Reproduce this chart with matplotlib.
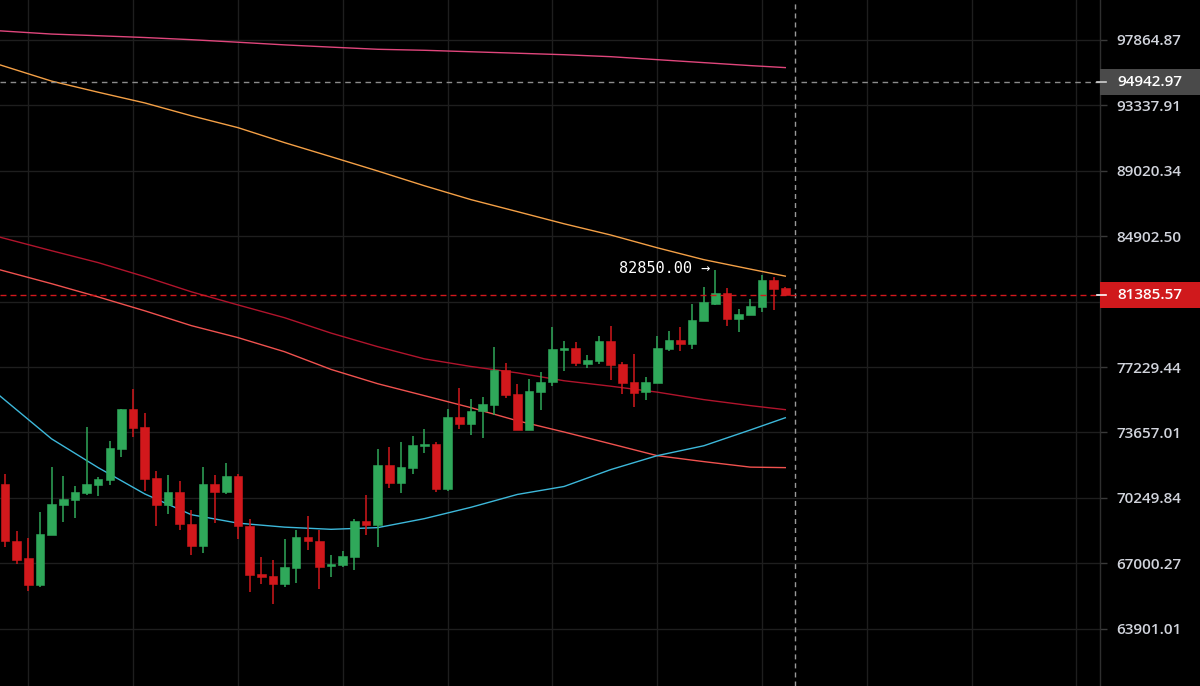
import numpy as np
import matplotlib
matplotlib.use("Agg")
import matplotlib.pyplot as plt
from matplotlib.ticker import FixedLocator, FixedFormatter, NullLocator
from matplotlib.transforms import IdentityTransform
from matplotlib.patches import Rectangle
from matplotlib.lines import Line2D

# ---------------- data ----------------
opens = [70953, 68100, 67274, 65967, 68387, 69892, 70140, 70484, 70901, 71177,
         72792, 74897, 73952, 71281, 69892, 70536, 68948, 67820, 70932, 70567,
         71349, 68814, 66455, 66379, 65981, 66787, 68302, 68103, 66853, 66915,
         67293, 69082, 68864, 71959, 71021, 71787, 72933, 73053, 70693, 74460,
         74132, 74800, 75137, 77065, 75738, 73772, 75847, 76372, 78186, 78301,
         77419, 77574, 78679, 77402, 76394, 75826, 76339, 78261, 78759, 78547,
         79824, 80855, 81491, 79961, 80191, 80649, 82272, 81791]
highs = [71474, 68566, 68218, 69544, 71818, 71370, 70828, 73936, 71333, 73225,
         74935, 76028, 74717, 71646, 71401, 71125, 69609, 71839, 71438, 72063,
         71474, 69197, 67308, 67144, 68203, 68650, 69346, 68650, 67408, 67592,
         69182, 70380, 72792, 72896, 73172, 73454, 73826, 73172, 74935, 76066,
         75465, 75574, 78375, 77459, 76284, 76574, 76956, 79521, 78702, 78645,
         77917, 79005, 79538, 77516, 77935, 76700, 78965, 79251, 79503, 80820,
         81851, 82850, 81749, 80534, 81113, 82530, 82434, 81820]
lows = [67790, 66948, 65650, 65858, 68387, 69013, 69246, 70411, 70343, 70901,
        72339, 73433, 70604, 68849, 69445, 68615, 67393, 67492, 68983, 70448,
        68203, 65602, 65981, 65052, 65858, 66048, 67621, 65763, 66332, 66820,
        66664, 68367, 67790, 70745, 70484, 71474, 72547, 70552, 70620, 73826,
        73537, 73350, 74569, 75498, 73772, 73772, 74881, 76192, 77011, 77305,
        77175, 77385, 76519, 75738, 75006, 75389, 76339, 78106, 78129, 78261,
        79824, 80780, 79561, 79234, 80191, 80339, 80494, 81385.57]
closes = [68069, 67144, 65967, 68451, 69942, 70205, 70536, 70953, 71229, 72844,
          74897, 73914, 71229, 69892, 70536, 68913, 67820, 70932, 70567, 71349,
          68814, 66408, 66346, 65981, 66820, 68302, 68069, 66834, 66948, 67343,
          69097, 68864, 71959, 71021, 71839, 72985, 73053, 70693, 74460, 74132,
          74826, 75170, 77065, 75700, 73772, 75902, 76372, 78221, 78278, 77442,
          77631, 78679, 77362, 76355, 75793, 76372, 78301, 78759, 78547, 79881,
          80935, 81491, 79961, 80248, 80706, 82272, 81731, 81385.57]

# moving averages sampled at candle indices
ma_idx = [-0.5, 4, 8, 12, 16, 20, 24, 28, 32, 36, 40, 44, 48, 52, 56, 60, 64, 67]
ma_pink = [98518, 98286, 98167, 98040, 97886, 97706, 97519, 97360, 97208, 97138,
           97034, 96931, 96827, 96689, 96481, 96273, 96066, 95927]
ma_orange = [96135, 94993, 94232, 93505, 92638, 91846, 90856, 89932, 89008, 88063,
             87182, 86426, 85670, 84978, 84194, 83473, 82902, 82482]
ma_darkred = [84854, 84014, 83293, 82452, 81551, 80780, 80036, 79148, 78375, 77688,
              77259, 76902, 76465, 76164, 75837, 75427, 75099, 74881]
ma_salmon = [82872, 82032, 81251, 80437, 79578, 78891, 78089, 77093, 76301, 75645,
             74990, 74280, 73679, 73053, 72427, 72115, 71828, 71802]
ma_cyan = [75662, 73313, 71802, 70448, 69395, 68973, 68774, 68665, 68749, 69197,
           69768, 70422, 70828, 71698, 72427, 72948, 73788, 74443]

ytick_values = [97864.87, 93337.91, 89020.34, 84902.50, 80974.52, 77229.44,
                73657.01, 70249.84, 67000.27, 63901.01]
ytick_labels = ["97864.87", "93337.91", "89020.34", "84902.50", "", "77229.44",
                "73657.01", "70249.84", "67000.27", "63901.01"]
last_price = 81385.57
crosshair_price = 94942.97
crosshair_index = 67.85
high_label_index = 61
high_label_value = 82850.00

# ---------------- style ----------------
BG = "#000000"
GRID = "#1e1e1e"
UP = "#2fa85a"
DOWN = "#d2181c"
TXT = "#d1d4dc"

fig = plt.figure(figsize=(12, 6.86), dpi=100, facecolor=BG)
ax = fig.add_axes([0, 0, 1100 / 1200, 1], facecolor=BG)

o = np.array(opens, float)
h = np.array(highs, float)
l = np.array(lows, float)
c = np.array(closes, float)
x = np.arange(len(o))
cols = np.where(c >= o, UP, DOWN)

ax.vlines(x, l, h, colors=cols, linewidth=1.1, zorder=3)
bottom = np.minimum(o, c)
height = np.maximum(np.abs(c - o), 60)
ax.bar(x, height, bottom=bottom, width=0.74, color=cols, edgecolor=cols,
       linewidth=0.4, zorder=4)

lw = 1.0
ax.plot(ma_idx, ma_pink, color="#e0467c", lw=lw, zorder=2)
ax.plot(ma_idx, ma_orange, color="#f4a046", lw=lw, zorder=2)
ax.plot(ma_idx, ma_darkred, color="#b0142c", lw=lw, zorder=2)
ax.plot(ma_idx, ma_salmon, color="#f0524f", lw=lw, zorder=2)
ax.plot(ma_idx, ma_cyan, color="#3db8da", lw=lw, zorder=2)

ax.set_yscale("log")
ax.set_ylim(61300, 100740)
ax.set_xlim(-0.43, 94.02)

ax.yaxis.set_major_locator(FixedLocator(ytick_values))
ax.yaxis.set_major_formatter(FixedFormatter(ytick_labels))
ax.yaxis.set_minor_locator(NullLocator())
ax.yaxis.tick_right()
ax.tick_params(axis="y", which="major", length=5, width=1, color="#3a3a3a",
               labelcolor=TXT, labelsize=11, pad=7)
for t in ax.get_yticklabels():
    t.set_fontfamily(["Open Sans", "DejaVu Sans"])
    t.set_fontweight("semibold")

ax.set_xticks(np.arange(2, 95, 9))
ax.tick_params(axis="x", length=0, labelbottom=False)
ax.grid(True, color=GRID, linewidth=1)
ax.set_axisbelow(True)

for s in ["top", "left", "bottom"]:
    ax.spines[s].set_visible(False)
ax.spines["right"].set_color("#2e2e2e")
ax.spines["right"].set_linewidth(1)

# crosshair + last price lines
ax.axhline(crosshair_price, color="#8c8c8c", lw=1, dashes=(4, 3.3), zorder=5)
ax.axvline(crosshair_index, color="#9a9a9a", lw=1, dashes=(3.6, 2.9), zorder=5)
ax.axhline(last_price, color=DOWN, lw=1, dashes=(4.3, 2.9), zorder=5)

# high label
ax.annotate(f"{high_label_value:.2f} \u2192", xy=(high_label_index, high_label_value),
            xytext=(-4, 1), textcoords="offset points", ha="right", va="center",
            color="white", fontsize=11, family="DejaVu Sans Mono", zorder=6)

fig.canvas.draw()


def price_box(price, fc, dash_col):
    yd = ax.transData.transform((0, price))[1]
    x0 = ax.transAxes.transform((1, 0))[0]
    r = Rectangle((x0, yd - 13), fig.bbox.width - x0, 26, transform=IdentityTransform(),
                  facecolor=fc, edgecolor="none", zorder=10, clip_on=False)
    ax.add_artist(r)
    ax.add_line(Line2D([x0 - 3, x0 + 6], [yd, yd], transform=IdentityTransform(),
                       color=dash_col, lw=1.2, zorder=11, clip_on=False))
    ax.text(x0 + 17, yd, f"{price:.2f}", transform=IdentityTransform(), ha="left",
            va="center", color="white", fontsize=11, fontweight="semibold",
            family=["Open Sans", "DejaVu Sans"], zorder=12, clip_on=False)


price_box(crosshair_price, "#4a4a4a", "#d0d0d0")
price_box(last_price, "#d0191c", "white")

fig.savefig("out.png", dpi=100, facecolor=BG)
